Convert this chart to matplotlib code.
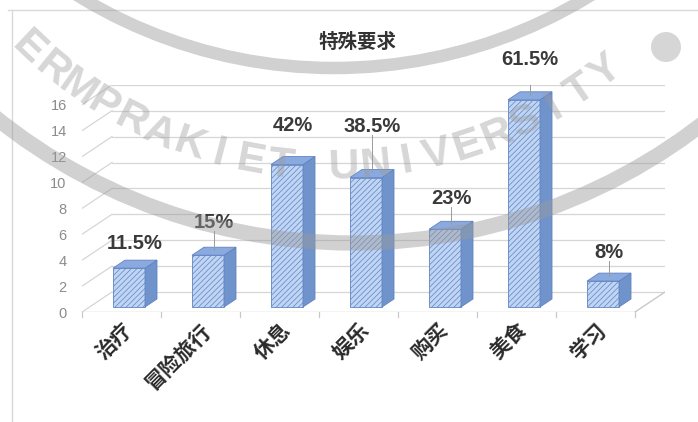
import numpy as np
import matplotlib
matplotlib.use("Agg")
import matplotlib.pyplot as plt
from matplotlib.patches import Polygon, Circle
from matplotlib.transforms import Affine2D

# ---------------- data ----------------
title = "特殊要求"
categories = ["治疗", "冒险旅行", "休息", "娱乐", "购买", "美食", "学习"]
values = [3, 4, 11, 10, 6, 16, 2]
pct_labels = ["11.5%", "15%", "42%", "38.5%", "23%", "61.5%", "8%"]
yticks = [0, 2, 4, 6, 8, 10, 12, 14, 16]

# label layout (offset above bar top, in value units) and leader-line flags
label_offset = [1.6, 2.2, 2.7, 3.6, 2.1, 2.8, 1.9]
leader = [False, True, False, True, True, True, True]

W, H, DPI = 698, 422, 100
fig = plt.figure(figsize=(W / DPI, H / DPI), dpi=DPI)
fig.patch.set_facecolor("white")

# axes mapping (front plane): x=-0.5 -> px 82, 79 px/category; y=0 -> px 312, 12.95 px/unit
px_per_cat, px_per_val = 79.0, 12.95
left_px, floor_px, right_px, top_px = 82, 312, 665, 85
ax = fig.add_axes([left_px / W, (H - floor_px) / H,
                   (right_px - left_px) / W, (floor_px - top_px) / H])
ax.set_xlim(-0.5, -0.5 + (right_px - left_px) / px_per_cat)
ax.set_ylim(0, (floor_px - top_px) / px_per_val)
for s in ax.spines.values():
    s.set_visible(False)
ax.patch.set_alpha(0)

DX = 30 / px_per_cat      # full depth offset in x
DY = 20 / px_per_val      # full depth offset in y
n = len(categories)
x0, x1 = -0.5, n - 0.5

grid_c = "#d6d6d6"
# back wall gridlines + left wall lines
for v in yticks:
    ax.plot([x0 + DX, x1 + DX], [v + DY, v + DY], color=grid_c, lw=0.9, zorder=1)
    ax.plot([x0, x0 + DX], [v, v + DY], color=grid_c, lw=0.9, zorder=1)
# floor edges
ax.plot([x0, x1], [0, 0], color="#c8c8c8", lw=1.0, zorder=1)
ax.plot([x1, x1 + DX], [0, DY], color="#c8c8c8", lw=1.0, zorder=1)
# small tick marks at category boundaries
for b in np.arange(x0, x1 + 0.01, 1.0):
    ax.plot([b, b], [0, -0.35], color="#c8c8c8", lw=0.9, zorder=1, clip_on=False)

# bars
f0, f1 = 0.25, 0.65
bw = 32 / px_per_cat
xs = np.arange(n)
xc = xs + f0 * DX
yb = f0 * DY
ddx, ddy = (f1 - f0) * DX, (f1 - f0) * DY
face_c, hatch_c, side_c, top_c, edge_c = "#c0d5f4", "#9ab6e6", "#7093cc", "#8aa9de", "#5f83c2"
plt.rcParams["hatch.color"] = hatch_c
plt.rcParams["hatch.linewidth"] = 0.5
ax.bar(xc, values, width=bw, bottom=yb, color=face_c, edgecolor=edge_c,
       linewidth=0.6, hatch="//////", zorder=3)
for i, v in enumerate(values):
    xl, xr = xc[i] - bw / 2, xc[i] + bw / 2
    yt = yb + v
    side = Polygon([(xr, yb), (xr + ddx, yb + ddy), (xr + ddx, yt + ddy), (xr, yt)],
                   closed=True, facecolor=side_c, edgecolor=edge_c, lw=0.6, zorder=3)
    top = Polygon([(xl, yt), (xr, yt), (xr + ddx, yt + ddy), (xl + ddx, yt + ddy)],
                  closed=True, facecolor=top_c, edgecolor=edge_c, lw=0.6, zorder=3)
    ax.add_patch(side)
    ax.add_patch(top)
    tx, ty = xc[i] + ddx / 2, yt + ddy / 2
    ly = ty + label_offset[i]
    ax.text(tx, ly, pct_labels[i], ha="center", va="center", fontsize=14.5,
            fontweight="bold", color="#3a3a3a", family="Liberation Sans", zorder=5)
    if leader[i]:
        ax.plot([tx, tx], [ty + 0.1, ly - 0.65], color="#9a9a9a", lw=0.7, zorder=4)

# y tick labels
ax.set_yticks(yticks)
ax.set_yticklabels([str(t) for t in yticks], family="Liberation Sans",
                   fontsize=10.5, color="#8c8c8c")
ax.tick_params(axis="y", length=0, pad=11)
# category labels
ax.set_xticks(xs)
ax.set_xticklabels(categories, rotation=45, ha="right", rotation_mode="anchor",
                   family=["Noto Sans CJK SC", "DejaVu Sans"], fontweight="bold",
                   fontsize=15, color="#2a2a2a")
ax.tick_params(axis="x", length=0, pad=5)

# title
fig.text(358 / W, 1 - 42 / H, title, ha="center", va="center", fontsize=14,
         family=["Noto Sans CJK SC", "DejaVu Sans"], fontweight="bold", color="#333333")

# chart border
pix = Affine2D().scale(1 / DPI, -1 / DPI).translate(0, H / DPI) + fig.dpi_scale_trans
fig.add_artist(plt.Line2D([8, W], [10, 10], transform=pix, color="#d9d9d9", lw=1.0))
fig.add_artist(plt.Line2D([12, 12], [10, H], transform=pix, color="#d9d9d9", lw=1.0))

# watermark
wm_c = "#9a9a9a"
fig.add_artist(Circle((353, -329), 572, transform=pix, fill=False, edgecolor=wm_c,
                      lw=11, alpha=0.45, zorder=10))
fig.add_artist(Circle((334, -422), 490, transform=pix, fill=False, edgecolor=wm_c,
                      lw=9, alpha=0.45, zorder=10))
fig.add_artist(Circle((666, 47), 15, transform=pix, facecolor=wm_c, edgecolor="none",
                      alpha=0.4, zorder=10))
wm_text = "ERMPRAKIET UNIVERSITY"
for k, ch in enumerate(wm_text):
    th = -43.3 + 4.1 * k
    px = 330 + 440 * np.sin(np.radians(th))
    py = -272 + 440 * np.cos(np.radians(th))
    fig.text(px / W, 1 - py / H, ch, rotation=th, ha="center", va="center",
             fontsize=31, family="Liberation Sans", fontweight="bold",
             color=wm_c, alpha=0.4, zorder=10, rotation_mode="anchor")

fig.savefig("out.png", dpi=DPI)
